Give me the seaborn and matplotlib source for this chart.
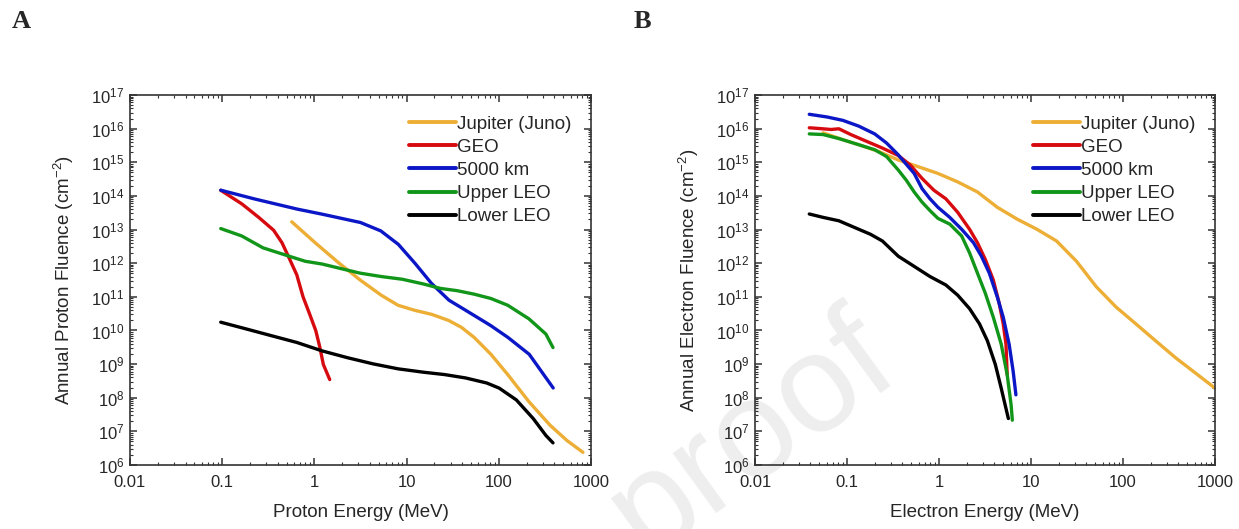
import numpy as np
import pandas as pd
import matplotlib
matplotlib.use("Agg")
import matplotlib.pyplot as plt
import matplotlib.ticker as mticker
import seaborn as sns

# ---------------------------------------------------------------- data
series_names = ["Jupiter (Juno)", "GEO", "5000 km", "Upper LEO", "Lower LEO"]
series_colors = ["#EDAE35", "#D60A0F", "#0B17C6", "#12961A", "#000000"]

x_tick_values = [0.01, 0.1, 1, 10, 100, 1000]
x_tick_labels = ["0.01", "0.1", "1", "10", "100", "1000"]

# Protons: energy (MeV) and annual fluence (cm^-2)
p_jupiter_E = [0.568, 1.019, 1.845, 3.126, 5.30, 8.07, 12.3, 18.8, 28.6, 39.3,
               54.0, 82.2, 125, 212, 360, 548, 818]
p_jupiter_F = [1.70e13, 4.06e12, 1.01e12, 3.18e11, 1.12e11, 5.61e10, 3.96e10, 3.00e10,
               1.98e10, 1.24e10, 6.22e9, 1.95e9, 4.88e8, 7.66e7, 1.52e7, 5.36e6, 2.38e6]

p_geo_E = [0.0964, 0.163, 0.249, 0.361, 0.445, 0.521, 0.644, 0.753, 0.885, 1.035,
           1.148, 1.250, 1.466]
p_geo_F = [1.47e14, 5.81e13, 2.30e13, 9.55e12, 4.06e12, 1.61e12, 4.50e11, 1.0e11,
           3.14e10, 9.89e9, 3.09e9, 9.77e8, 3.47e8]

p_5000_E = [0.0964, 0.224, 0.646, 1.20, 3.16, 5.25, 8.13, 12.3, 18.6, 28.8, 43.7,
            81.3, 126, 214, 389]
p_5000_F = [1.48e14, 8.13e13, 4.07e13, 2.88e13, 1.62e13, 9.12e12, 3.63e12, 1.0e12,
            2.51e11, 7.94e10, 3.98e10, 1.41e10, 6.17e9, 1.95e9, 1.95e8]

p_uleo_E = [0.0964, 0.163, 0.277, 0.469, 0.794, 1.211, 1.845, 3.126, 5.30, 8.97,
            15.2, 23.2, 35.4, 54.0, 82.2, 125, 212, 324, 387]
p_uleo_F = [1.07e13, 6.44e12, 2.86e12, 1.80e12, 1.14e12, 9.44e11, 7.14e11, 5.06e11,
            4.01e11, 3.33e11, 2.41e11, 1.78e11, 1.52e11, 1.20e11, 8.91e10, 5.61e10,
            2.22e10, 7.83e9, 3.10e9]

p_lleo_E = [0.0964, 0.182, 0.342, 0.644, 1.211, 2.28, 4.30, 8.07, 15.2, 25.8, 43.7,
            74.0, 101, 155, 236, 324, 387]
p_lleo_F = [1.76e10, 1.11e10, 6.98e9, 4.40e9, 2.47e9, 1.55e9, 1.02e9, 7.23e8, 5.74e8,
            4.88e8, 3.87e8, 2.74e8, 1.93e8, 8.61e7, 2.41e7, 7.57e6, 4.55e6]

# Electrons: energy (MeV) and annual fluence (cm^-2)
e_jupiter_E = [0.0550, 0.0902, 0.134, 0.220, 0.361, 0.593, 0.973, 1.596, 2.618, 4.295,
               7.047, 11.59, 19.0, 31.2, 51.2, 83.9, 138, 226, 372, 610, 1000]
e_jupiter_F = [7.48e15, 4.71e15, 3.33e15, 2.10e15, 1.17e15, 7.40e14, 4.66e14, 2.61e14,
               1.31e14, 4.60e13, 2.05e13, 1.02e13, 4.55e12, 1.14e12, 2.00e11, 4.99e10,
               1.57e10, 4.93e9, 1.55e9, 5.48e8, 1.93e8]

e_geo_E = [0.0389, 0.0498, 0.0670, 0.0817, 0.110, 0.163, 0.243, 0.361, 0.486, 0.655,
           0.881, 1.186, 1.596, 2.148, 2.618, 3.192, 3.890, 4.519, 4.989, 5.346, 5.508]
e_geo_F = [1.06e16, 1.01e16, 9.44e15, 9.89e15, 6.67e15, 4.20e15, 2.64e15, 1.59e15,
           8.32e14, 3.30e14, 1.47e14, 8.22e13, 3.26e13, 1.02e13, 4.06e12, 1.28e12,
           3.18e11, 6.30e10, 1.57e10, 3.92e9, 4.88e8]

e_5000_E = [0.0389, 0.0607, 0.0902, 0.134, 0.200, 0.269, 0.361, 0.441, 0.537, 0.655,
            0.798, 0.973, 1.309, 1.762, 2.371, 2.891, 3.524, 4.295, 4.989, 5.781,
            6.397, 6.855]
e_5000_F = [2.67e16, 2.22e16, 1.76e16, 1.19e16, 6.98e15, 3.74e15, 1.66e15, 8.71e14,
            4.66e14, 1.64e14, 8.22e13, 4.60e13, 2.30e13, 1.02e13, 4.06e12, 1.61e12,
            5.06e11, 1.0e11, 2.49e10, 3.92e9, 6.15e8, 1.22e8]

e_uleo_E = [0.0389, 0.0550, 0.0817, 0.134, 0.200, 0.269, 0.361, 0.441, 0.537, 0.655,
            0.798, 0.973, 1.309, 1.762, 2.148, 2.618, 3.192, 3.890, 4.742, 5.508,
            6.081, 6.266]
e_uleo_F = [6.98e15, 6.67e15, 5.06e15, 3.33e15, 2.36e15, 1.48e15, 5.87e14, 2.93e14,
            1.31e14, 6.52e13, 3.66e13, 2.15e13, 1.45e13, 6.44e12, 2.03e12, 5.06e11,
            1.26e11, 2.49e10, 3.92e9, 4.88e8, 6.08e7, 2.15e7]

e_lleo_E = [0.0389, 0.0550, 0.0817, 0.121, 0.180, 0.243, 0.361, 0.537, 0.798, 1.186,
            1.596, 2.148, 2.754, 3.357, 4.093, 4.742, 5.236, 5.675]
e_lleo_F = [2.90e13, 2.30e13, 1.82e13, 1.15e13, 7.23e12, 4.55e12, 1.61e12, 8.04e11,
            4.01e11, 2.25e11, 1.12e11, 4.45e10, 1.57e10, 4.93e9, 9.77e8, 1.93e8,
            6.08e7, 2.41e7]


def long_table(pairs):
    frames = []
    for name, (energy, fluence) in zip(series_names, pairs):
        frames.append(pd.DataFrame({"Energy": energy, "Fluence": fluence, "Orbit": name}))
    return pd.concat(frames, ignore_index=True)


proton_df = long_table([(p_jupiter_E, p_jupiter_F), (p_geo_E, p_geo_F),
                        (p_5000_E, p_5000_F), (p_uleo_E, p_uleo_F),
                        (p_lleo_E, p_lleo_F)])
electron_df = long_table([(e_jupiter_E, e_jupiter_F), (e_geo_E, e_geo_F),
                          (e_5000_E, e_5000_F), (e_uleo_E, e_uleo_F),
                          (e_lleo_E, e_lleo_F)])

# ---------------------------------------------------------------- style
sns.set_style("ticks")
plt.rcParams["font.family"] = ["Liberation Sans", "DejaVu Sans"]
plt.rcParams["mathtext.fontset"] = "custom"
plt.rcParams["mathtext.rm"] = "Liberation Sans"
plt.rcParams["mathtext.it"] = "Liberation Sans:italic"

palette = dict(zip(series_names, series_colors))

fig = plt.figure(figsize=(12.39, 5.29), dpi=100)
ax_p = fig.add_axes([130 / 1239, 64 / 529, 461 / 1239, 370 / 529])
ax_e = fig.add_axes([755 / 1239, 64 / 529, 460 / 1239, 370 / 529])

# faint watermark, drawn underneath both panels
fig.text(0.607, 0.175, "proof", fontsize=100, color="#eeeeee", rotation=36,
         ha="center", va="center", zorder=-5, family="Liberation Sans")


def draw_panel(ax, df, xlabel, ylabel):
    ax.patch.set_alpha(0)
    sns.lineplot(data=df, x="Energy", y="Fluence", hue="Orbit", hue_order=series_names,
                 palette=palette, sort=False, estimator=None, linewidth=2.4, ax=ax)
    ax.set_xscale("log")
    ax.set_yscale("log")
    ax.set_xlim(0.01, 1000)
    ax.set_ylim(1e6, 1e17)
    ax.set_xticks(x_tick_values)
    ax.set_xticklabels(x_tick_labels)
    ax.xaxis.set_minor_locator(mticker.LogLocator(base=10, subs=np.arange(2, 10), numticks=100))
    ax.xaxis.set_minor_formatter(mticker.NullFormatter())
    ax.yaxis.set_major_locator(mticker.LogLocator(base=10, numticks=20))
    ax.yaxis.set_minor_locator(mticker.LogLocator(base=10, subs=np.arange(2, 10), numticks=200))
    ax.yaxis.set_major_formatter(mticker.LogFormatterSciNotation())
    ax.yaxis.set_minor_formatter(mticker.NullFormatter())
    ax.tick_params(which="both", direction="in", top=True, right=True,
                   labelsize=12, color="#333333")
    ax.tick_params(axis="x", which="major", pad=7)
    ax.tick_params(axis="y", which="major", pad=4)
    ax.tick_params(which="major", length=5, width=1.1)
    ax.tick_params(which="minor", length=2.5, width=0.8)
    for side in ax.spines.values():
        side.set_linewidth(1.2)
        side.set_color("#333333")
    ax.set_xlabel(xlabel, fontsize=13.5, labelpad=10)
    ax.set_ylabel(ylabel, fontsize=13.5, labelpad=11)
    leg = ax.legend(loc="upper right", frameon=False, fontsize=13.5, handlelength=2.5,
                    handletextpad=0.1, labelspacing=0.32, borderaxespad=0.5,
                    bbox_to_anchor=(0.995, 0.99))
    for line in leg.get_lines():
        line.set_linewidth(2.8)


draw_panel(ax_p, proton_df, "Proton Energy (MeV)", "Annual Proton Fluence (cm$^{-2}$)")
draw_panel(ax_e, electron_df, "Electron Energy (MeV)", "Annual Electron Fluence (cm$^{-2}$)")

fig.text(12 / 1239, 1 - 10 / 529, "A", fontsize=19, fontweight="bold",
         family="Liberation Serif", va="top", ha="left")
fig.text(634 / 1239, 1 - 10 / 529, "B", fontsize=19, fontweight="bold",
         family="Liberation Serif", va="top", ha="left")

fig.savefig("out.png", dpi=100)
